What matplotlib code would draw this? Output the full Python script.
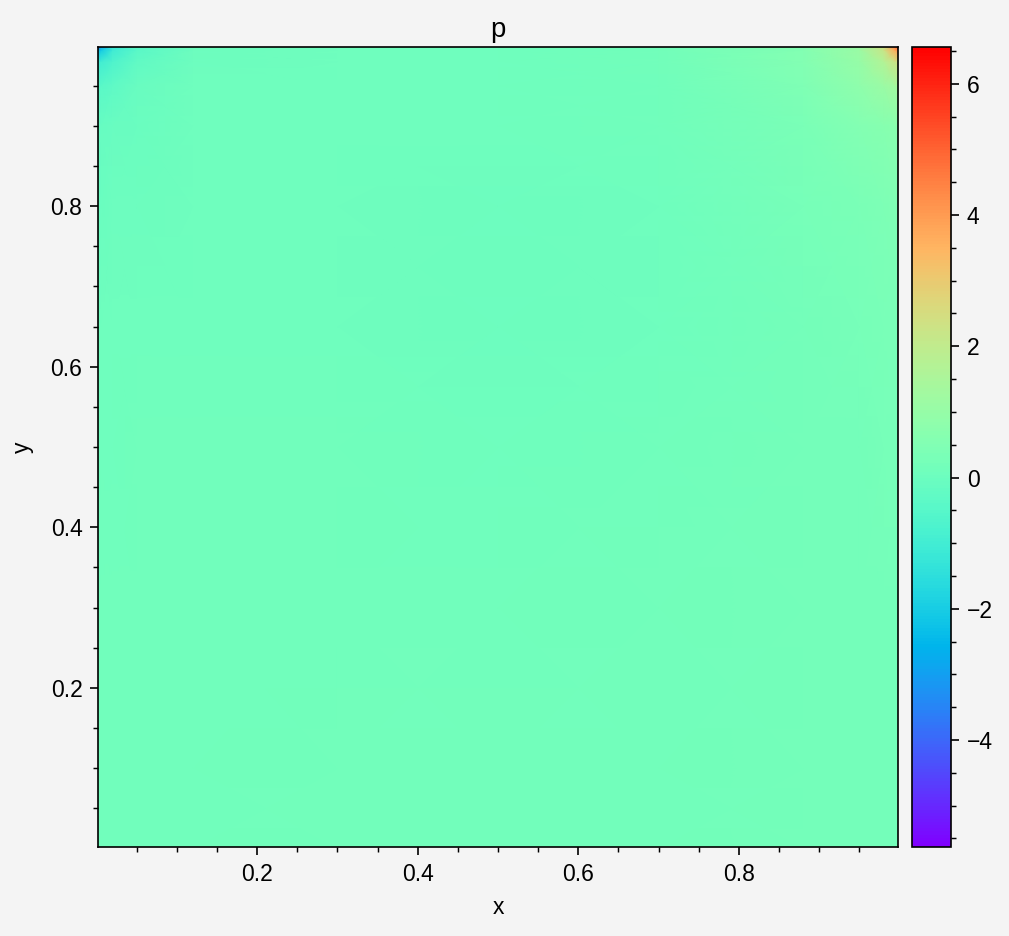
import numpy as np
import matplotlib
matplotlib.use("Agg")
import matplotlib.pyplot as plt
from matplotlib.ticker import MultipleLocator

plt.rcParams["font.family"] = ["Liberation Sans", "DejaVu Sans"]
plt.rcParams["font.size"] = 11

# grid coordinates (denser near the lid corners)
x_pts = [0.0, 0.006, 0.02, 0.05, 0.12, 0.3, 0.5, 0.7, 0.88, 0.95, 0.98, 0.994, 1.0]
y_pts = [0.0, 0.1, 0.3, 0.5, 0.65, 0.8, 0.9, 0.95, 0.98, 0.994, 1.0]

# pressure values, one row per y (bottom to top)
p_y000 = [0.12, 0.12, 0.12, 0.12, 0.13, 0.14, 0.14, 0.15, 0.18, 0.20, 0.20, 0.20, 0.20]
p_y010 = [0.12, 0.12, 0.12, 0.12, 0.13, 0.14, 0.14, 0.15, 0.18, 0.20, 0.20, 0.20, 0.20]
p_y030 = [0.10, 0.10, 0.10, 0.11, 0.12, 0.13, 0.12, 0.14, 0.18, 0.20, 0.21, 0.21, 0.21]
p_y050 = [0.08, 0.08, 0.08, 0.09, 0.10, 0.10, 0.08, 0.12, 0.18, 0.22, 0.23, 0.23, 0.23]
p_y065 = [0.05, 0.05, 0.06, 0.07, 0.08, 0.06, 0.02, 0.06, 0.20, 0.26, 0.28, 0.28, 0.28]
p_y080 = [-0.02, -0.02, 0.0, 0.03, 0.06, 0.05, 0.02, 0.07, 0.26, 0.36, 0.40, 0.42, 0.42]
p_y090 = [-0.15, -0.15, -0.1, -0.02, 0.05, 0.06, 0.05, 0.10, 0.35, 0.55, 0.65, 0.70, 0.72]
p_y095 = [-0.4, -0.4, -0.3, -0.1, 0.04, 0.07, 0.06, 0.12, 0.45, 0.80, 1.1, 1.3, 1.4]
p_y098 = [-1.0, -1.0, -0.7, -0.25, 0.02, 0.08, 0.07, 0.14, 0.52, 1.0, 1.7, 2.3, 2.5]
p_y0994 = [-2.3, -2.1, -1.1, -0.4, 0.0, 0.08, 0.07, 0.15, 0.55, 1.1, 2.2, 3.7, 4.4]
p_y100 = [-5.63, -2.9, -1.3, -0.45, 0.0, 0.08, 0.07, 0.15, 0.56, 1.15, 2.4, 4.5, 6.56]

P = np.array([p_y000, p_y010, p_y030, p_y050, p_y065, p_y080,
              p_y090, p_y095, p_y098, p_y0994, p_y100])

fig = plt.figure(figsize=(1009 / 150, 936 / 150), dpi=150, facecolor="#f4f4f4")
ax = fig.add_axes([98 / 1009, 89 / 936, 800 / 1009, 800 / 936])
cax = fig.add_axes([912 / 1009, 89 / 936, 39 / 1009, 800 / 936])

mesh = ax.pcolormesh(x_pts, y_pts, P, shading="gouraud", cmap="rainbow",
                     vmin=P.min(), vmax=P.max(), rasterized=True)
ax.set_xlim(0.002, 0.998)
ax.set_ylim(0.002, 0.998)
ax.set_title("p", pad=5)
ax.set_xlabel("x", labelpad=5)
ax.set_ylabel("y", labelpad=8)

for a in (ax, cax):
    for s in a.spines.values():
        s.set_linewidth(0.8)
    a.tick_params(which="major", direction="out", length=4, width=0.8, labelsize=11)
    a.tick_params(which="minor", direction="out", length=2.2, width=0.7)

ax.xaxis.set_major_locator(MultipleLocator(0.2))
ax.yaxis.set_major_locator(MultipleLocator(0.2))
ax.xaxis.set_minor_locator(MultipleLocator(0.05))
ax.yaxis.set_minor_locator(MultipleLocator(0.05))

cb = fig.colorbar(mesh, cax=cax)
cb.outline.set_linewidth(0.8)
cb.set_ticks([-4, -2, 0, 2, 4, 6])
cax.yaxis.set_minor_locator(MultipleLocator(0.5))

fig.savefig("out.png", dpi=150, facecolor=fig.get_facecolor())
